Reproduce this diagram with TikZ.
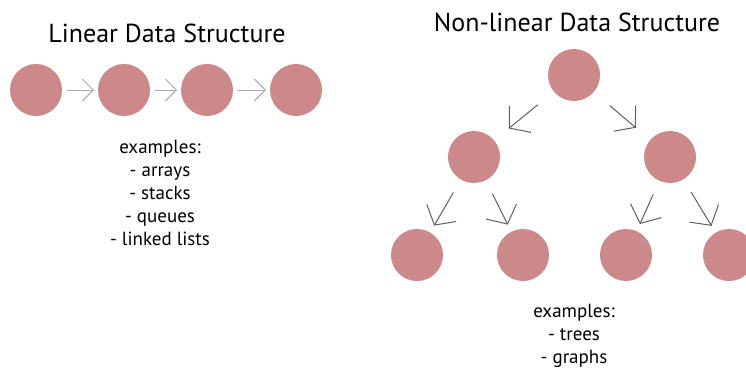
\documentclass[tikz,border=0pt]{standalone}
\usepackage{fontspec}
\setmainfont{PT Sans}
\usepackage{tikz}
\usetikzlibrary{arrows.meta}
\definecolor{elemred}{RGB}{205,137,137}
\definecolor{linkgray}{RGB}{170,170,170}
\definecolor{treegray}{RGB}{95,95,95}
\newcommand{\elemsize}{52pt}
\tikzstyle{elem}=[circle, fill=elemred, draw=none, inner sep=0, outer sep=0, minimum size=\elemsize]
\tikzstyle{link}=[draw=linkgray, line width=1pt, -{Straight Barb[length=11pt, width=22pt]}, shorten <=5pt, shorten >=4pt]
\tikzstyle{branch}=[draw=treegray, line width=1pt, -{Straight Barb[length=14pt, width=34pt]}]
\tikzstyle{title}=[font=\fontsize{26}{30}\selectfont, inner sep=0, anchor=base]
\tikzstyle{examples}=[font=\fontsize{19}{23}\selectfont, align=center, inner sep=0, anchor=north]
\tikzstyle{structures}=[x=1pt, y=-1pt,
                        % Fix the page to the size of the original.
                        execute at begin picture={\useasboundingbox (0,0) rectangle (746pt,-370pt);}]

\begin{document}
\begin{tikzpicture}[structures]
        % linear
        \node[title] (lintitle) at (167, 42) {Linear Data Structure};
        \node[elem] (L1) at (36, 90) {};
        \node[elem] (L2) at (124, 90) {};
        \node[elem] (L3) at (207, 90) {};
        \node[elem] (L4) at (296, 90) {};
        \draw[link] (L1) -- (L2);
        \draw[link] (L2) -- (L3);
        \draw[link] (L3) -- (L4);
        \node[examples] (linex) at (160, 140) {examples:\\- arrays\\- stacks\\- queues\\- linked lists};
        % non-linear
        \node[title] (treetitle) at (577, 31) {Non-linear Data Structure};
        \node[elem] (root) at (574, 75) {};
        \node[elem] (A) at (474, 157) {};
        \node[elem] (B) at (670, 157) {};
        \node[elem] (AA) at (417, 255) {};
        \node[elem] (AB) at (523, 255) {};
        \node[elem] (BA) at (626, 255) {};
        \node[elem] (BB) at (729, 255) {};
        \draw[branch, shorten <=21pt, shorten >=19pt] (root) -- (A);
        \draw[branch, shorten <=21pt, shorten >=19pt] (root) -- (B);
        \draw[branch, shorten <=15pt, shorten >=8pt] (A) -- (AA);
        \draw[branch, shorten <=15pt, shorten >=8pt] (A) -- (AB);
        \draw[branch, shorten <=15pt, shorten >=8pt] (B) -- (BA);
        \draw[branch, shorten <=15pt, shorten >=8pt] (B) -- (BB);
        \node[examples] (treeex) at (574, 304) {examples:\\- trees\\- graphs};
    \end{tikzpicture}
\end{document}
